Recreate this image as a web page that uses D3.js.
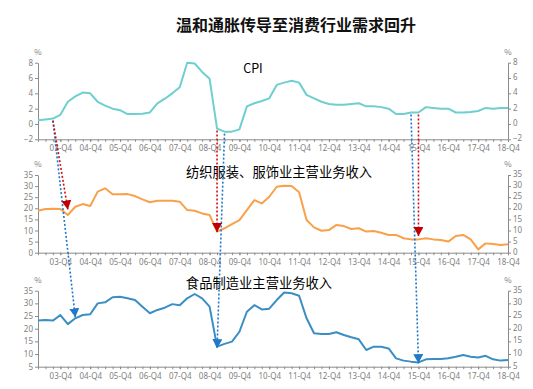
<!DOCTYPE html>
<html>
<head>
<meta charset="utf-8">
<script src="https://cdn.jsdelivr.net/npm/d3@7"></script>
<style>
  body { margin: 0; background: #fff; }
  svg { font-family: "Microsoft YaHei", "Noto Sans CJK SC", sans-serif; }
  .axis path, .axis line { stroke: #8c8c8c; }
  .axis text { fill: #7f7f7f; font-size: 8px; font-family: "Noto Sans", sans-serif; }
</style>
</head>
<body>
<div id="chart"></div>
<script>
// quarters 2003-Q1 .. 2018-Q4
const quarters = [];
for (let y = 3; y <= 18; y++) {
  for (let q = 1; q <= 4; q++) quarters.push(String(y).padStart(2, '0') + '-Q' + q);
}
const tickLabels = quarters.filter(d => d.endsWith('Q4'));

const cpi = [0.5, 0.6, 0.7, 1.2, 2.9, 3.6, 4.1, 4.0, 2.9, 2.4, 2.0, 1.8, 1.3, 1.3, 1.35, 1.5,
  2.7, 3.3, 4.0, 4.8, 8.0, 7.9, 6.8, 5.9, -0.6, -1.0, -1.0, -0.7, 2.3, 2.7, 3.0, 3.35,
  5.1, 5.4, 5.65, 5.4, 3.8, 3.35, 2.9, 2.6, 2.5, 2.5, 2.6, 2.7, 2.3, 2.3, 2.2, 2.0,
  1.3, 1.3, 1.5, 1.5, 2.2, 2.1, 2.0, 2.0, 1.5, 1.5, 1.55, 1.7, 2.1, 2.0, 2.1, 2.1];

const textile = [18.9, 19.7, 19.8, 19.7, 17.0, 20.7, 21.9, 21.0, 27.5, 29.0, 26.3, 26.3, 26.4, 25.5, 24.0, 22.7,
  23.4, 23.4, 23.4, 23.0, 19.2, 18.9, 17.7, 17.0, 9.5, 11.0, 12.9, 14.7, 19.2, 23.7, 22.2, 25.2,
  29.7, 30.2, 30.0, 27.2, 14.7, 11.4, 9.9, 10.2, 12.5, 12.0, 10.7, 11.0, 9.5, 9.8, 9.0, 8.0,
  8.0, 6.5, 6.0, 6.0, 6.5, 6.0, 5.7, 5.0, 7.5, 8.0, 6.0, 1.5, 4.2, 3.9, 3.5, 3.8];

const food = [23.2, 23.4, 23.2, 25.4, 21.8, 24.1, 25.4, 25.7, 30.0, 30.4, 32.4, 32.6, 32.0, 31.3, 28.7, 26.1,
  27.4, 28.3, 29.7, 29.3, 32.0, 33.7, 32.0, 28.7, 12.9, 14.0, 14.9, 18.8, 26.7, 29.3, 27.6, 27.9,
  31.3, 34.3, 34.0, 33.0, 24.1, 18.2, 17.9, 17.9, 18.6, 17.5, 16.6, 15.8, 11.6, 12.9, 12.9, 12.2,
  8.3, 7.4, 7.0, 6.7, 7.9, 8.0, 8.0, 8.3, 8.9, 9.6, 8.9, 8.6, 9.3, 7.9, 7.4, 7.6];

// arrows: CPI quarter -> target series quarter/value
const redArrows = [['03-Q3', '04-Q1', 19.5], ['09-Q1', '09-Q1', 9.3], ['15-Q4', '15-Q4', 7.5]];
const blueArrows = [['03-Q3', '04-Q2', 24.5], ['09-Q2', '09-Q1', 12.3], ['15-Q3', '15-Q4', 6.4]];

const title = '温和通胀传导至消费行业需求回升';

const width = 533, height = 389;
const svg = d3.select('#chart').append('svg')
  .attr('width', width)
  .attr('height', height);

const defs = svg.append('defs');
[['red', '#c00000'], ['blue', '#1f78c8']].forEach(([id, c]) => {
  defs.append('marker')
    .attr('id', 'arrow-' + id)
    .attr('viewBox', '0 0 10 10')
    .attr('refX', 9).attr('refY', 5)
    .attr('markerWidth', 10).attr('markerHeight', 10)
    .attr('markerUnits', 'userSpaceOnUse')
    .attr('orient', 'auto')
    .append('path')
    .attr('d', 'M0,0 L9,5 L0,10 Z')
    .attr('fill', c);
});

const x = d3.scalePoint().domain(quarters).range([38, 508]);

const panels = [
  { data: cpi, color: '#6fcfcf', domain: [-2, 8], range: [139.3, 62.7], ticks: d3.range(-2, 9, 2), label: 'CPI', lx: 253, ly: 73, size: 12.5 },
  { data: textile, color: '#f9a04a', domain: [0, 35], range: [252.7, 175], ticks: d3.range(0, 36, 5), label: '纺织服装、服饰业主营业务收入', lx: 279, ly: 177, size: 13.3 },
  { data: food, color: '#3a8ec3', domain: [5, 35], range: [366.7, 290.7], ticks: d3.range(5, 36, 5), label: '食品制造业主营业务收入', lx: 259, ly: 288, size: 13.3 }
];

panels.forEach(p => {
  p.y = d3.scaleLinear().domain(p.domain).range(p.range);
  const bottom = p.range[0], top = p.range[1];

  // minor quarter ticks
  svg.append('g')
    .attr('class', 'axis')
    .attr('transform', `translate(0,${bottom})`)
    .call(d3.axisBottom(x).tickSize(2.5).tickFormat(''))
    .call(g => g.select('.domain').remove());

  svg.append('g')
    .attr('class', 'axis')
    .attr('transform', `translate(0,${bottom})`)
    .call(d3.axisBottom(x).tickValues(tickLabels).tickSize(2.5).tickSizeOuter(0).tickPadding(4));

  svg.append('g')
    .attr('class', 'axis')
    .attr('transform', `translate(${x.range()[0]},0)`)
    .call(d3.axisLeft(p.y).tickValues(p.ticks).tickSize(3).tickSizeOuter(0).tickPadding(2));

  svg.append('g')
    .attr('class', 'axis')
    .attr('transform', `translate(${x.range()[1]},0)`)
    .call(d3.axisRight(p.y).tickValues(p.ticks).tickSize(3).tickSizeOuter(0).tickPadding(2))
    .call(g => g.selectAll('.tick text').attr('dy', '0.2em'));

  [x.range()[0], x.range()[1]].forEach(px => {
    svg.append('text')
      .attr('x', px).attr('y', top - 8)
      .attr('text-anchor', 'middle')
      .attr('fill', '#7f7f7f')
      .style('font-size', '8px')
      .text('%');
  });

  const line = d3.line()
    .x((d, i) => x(quarters[i]))
    .y(d => p.y(d));

  svg.append('path')
    .datum(p.data)
    .attr('fill', 'none')
    .attr('stroke', p.color)
    .attr('stroke-width', 2)
    .attr('stroke-linejoin', 'round')
    .attr('d', line);

  svg.append('text')
    .attr('x', p.lx).attr('y', p.ly)
    .attr('text-anchor', 'middle')
    .attr('fill', '#000')
    .style('font-size', p.size + 'px')
    .text(p.label);
});

const cpiY = panels[0].y;
function drawArrows(list, target, color, id) {
  svg.append('g').selectAll('line')
    .data(list)
    .join('line')
    .attr('x1', d => x(d[0]))
    .attr('y1', d => cpiY(cpi[quarters.indexOf(d[0])]) + 2)
    .attr('x2', d => x(d[1]))
    .attr('y2', d => target(d[2]))
    .attr('stroke', color)
    .attr('stroke-width', 1.6)
    .attr('stroke-dasharray', '2,2')
    .attr('marker-end', `url(#arrow-${id})`);
}
drawArrows(blueArrows, panels[2].y, '#1f78c8', 'blue');
drawArrows(redArrows, panels[1].y, '#d01010', 'red');

svg.append('text')
  .attr('x', 296).attr('y', 31)
  .attr('text-anchor', 'middle')
  .attr('fill', '#111')
  .style('font-size', '16px')
  .style('font-weight', 'bold')
  .text(title);
</script>
</body>
</html>
